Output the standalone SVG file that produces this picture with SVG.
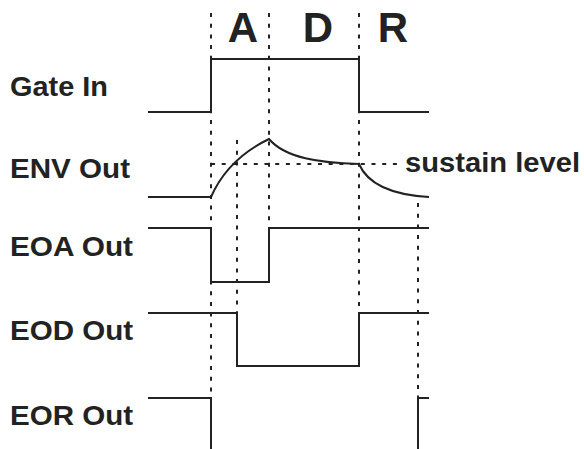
<svg xmlns="http://www.w3.org/2000/svg" width="584" height="449" viewBox="0 0 584 449">
<style>
.sig{fill:none;stroke:#222;stroke-width:2;stroke-linejoin:miter}
.dash{fill:none;stroke:#222;stroke-width:2;stroke-dasharray:4 6.7}
.lbl{font-family:"Liberation Sans",Arial,sans-serif;font-weight:bold;font-size:28px;fill:#222}
.ph{font-family:"Liberation Sans",Arial,sans-serif;font-weight:bold;font-size:42px;fill:#222;text-anchor:middle}
</style>
<rect width="584" height="449" fill="#fff"/>
<g id="guides">
<line class="dash" x1="211" y1="13" x2="211" y2="398"/>
<line class="dash" x1="269" y1="13" x2="269" y2="229"/>
<line class="dash" x1="359" y1="13" x2="359" y2="313"/>
<line class="dash" x1="237" y1="140" x2="237" y2="313"/>
<line class="dash" x1="418" y1="203" x2="418" y2="398"/>
<line class="dash" x1="211" y1="164" x2="400" y2="164"/>
</g>
<g id="phases">
<text class="ph" x="243" y="42">A</text>
<text class="ph" x="318" y="42">D</text>
<text class="ph" x="393" y="42">R</text>
</g>
<g id="gate">
<text class="lbl" x="10" y="96" textLength="98" lengthAdjust="spacingAndGlyphs">Gate In</text>
<path class="sig" d="M148,112 H211 V59 H359 V112 H429"/>
</g>
<g id="env">
<text class="lbl" x="10" y="178" textLength="120" lengthAdjust="spacingAndGlyphs">ENV Out</text>
<path class="sig" d="M148,197 H211 C222,172 242,152 269,139 C285,158 320,163 359,164 C368,185 395,195 429,197"/>
<text class="lbl" x="405" y="172" textLength="175" lengthAdjust="spacingAndGlyphs">sustain level</text>
</g>
<g id="eoa">
<text class="lbl" x="10" y="256" textLength="123" lengthAdjust="spacingAndGlyphs">EOA Out</text>
<path class="sig" d="M148,228 H211 V282 H269 V228 H429"/>
</g>
<g id="eod">
<text class="lbl" x="10" y="340" textLength="123" lengthAdjust="spacingAndGlyphs">EOD Out</text>
<path class="sig" d="M148,313 H237 V366 H359 V313 H429"/>
</g>
<g id="eor">
<text class="lbl" x="10" y="425" textLength="123" lengthAdjust="spacingAndGlyphs">EOR Out</text>
<path class="sig" d="M148,398 H211 V449"/>
<path class="sig" d="M418,449 V398 H429"/>
</g>
</svg>
